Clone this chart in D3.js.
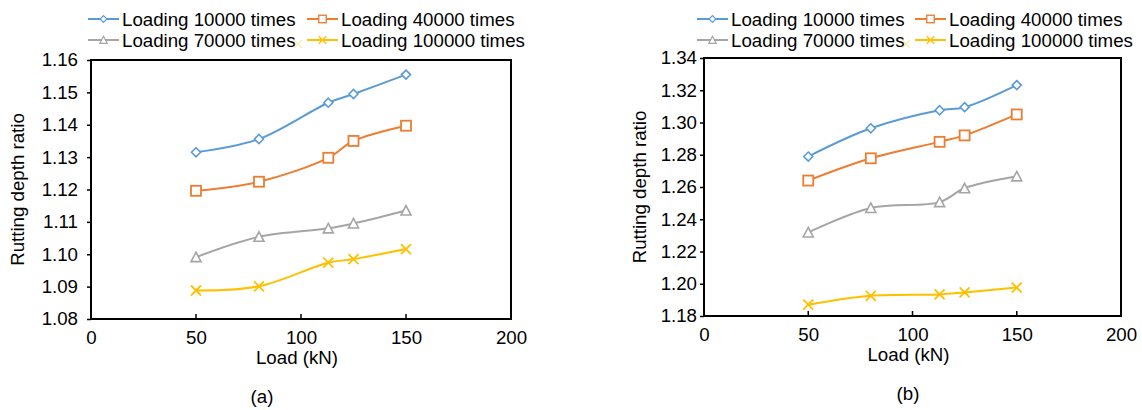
<!DOCTYPE html>
<html>
<head>
<meta charset="utf-8">
<script src="https://cdn.jsdelivr.net/npm/d3@7"></script>
<style>
  body { margin: 0; background: #fff; }
  svg { display: block; font-family: "Liberation Sans", Arial, sans-serif; }
</style>
</head>
<body>
<svg id="chart" width="1142" height="410"></svg>
<script>
// values
var loads = [50, 80, 113, 125, 150];
var seriesNames = ['Loading 10000 times', 'Loading 40000 times', 'Loading 70000 times', 'Loading 100000 times'];
var colors = ['#5B9BD5', '#ED7D31', '#A5A5A5', '#FFC000'];
var markers = ['diamond', 'square', 'triangle', 'cross'];

var ratioA10k = [1.1315, 1.1356, 1.1468, 1.1495, 1.1555];
var ratioA40k = [1.1196, 1.1224, 1.1298, 1.1350, 1.1397];
var ratioA70k = [1.0991, 1.1054, 1.1080, 1.1095, 1.1135];
var ratioA100k = [1.0888, 1.0901, 1.0974, 1.0985, 1.1016];

var ratioB10k = [1.2789, 1.2964, 1.3076, 1.3095, 1.3232];
var ratioB40k = [1.2640, 1.2778, 1.2880, 1.2920, 1.3050];
var ratioB70k = [1.2318, 1.2470, 1.2506, 1.2592, 1.2666];
var ratioB100k = [1.1870, 1.1925, 1.1934, 1.1946, 1.1976];

var xTicks = [0, 50, 100, 150, 200];
var yTicksA = [1.08, 1.09, 1.10, 1.11, 1.12, 1.13, 1.14, 1.15, 1.16];
var yTicksB = [1.18, 1.20, 1.22, 1.24, 1.26, 1.28, 1.30, 1.32, 1.34];

var panels = [
    {
        label: '(a)', series: [ratioA10k, ratioA40k, ratioA70k, ratioA100k], yTicks: yTicksA,
        box: {left: 91, right: 511, top: 60, bottom: 319}, yLabelGap: 9, yTitleX: 24,
        legendX: [88, 307], labelX: 262
    },
    {
        label: '(b)', series: [ratioB10k, ratioB40k, ratioB70k, ratioB100k], yTicks: yTicksB,
        box: {left: 704, right: 1121, top: 58, bottom: 316}, yLabelGap: 3, yTitleX: 646,
        legendX: [697, 915], labelX: 908
    }
];

var svg = d3.select('#chart');
var fontSize = 18.7;

function drawMarker(g, type, color) {
    var s = 4.5;
    if(type === 'diamond') {
        g.append('path').attr('d', 'M0,' + (-s) + 'L' + s + ',0L0,' + s + 'L' + (-s) + ',0Z')
            .attr('fill', '#fff').attr('stroke', color).attr('stroke-width', 1.6);
    } else if(type === 'square') {
        g.append('rect').attr('x', -5).attr('y', -5).attr('width', 10).attr('height', 10)
            .attr('fill', '#fff').attr('stroke', color).attr('stroke-width', 1.8);
    } else if(type === 'triangle') {
        g.append('path').attr('d', 'M0,-5L5,4.5L-5,4.5Z')
            .attr('fill', '#fff').attr('stroke', color).attr('stroke-width', 1.6);
    } else {
        g.append('path').attr('d', 'M-5,-5L5,5M-5,5L5,-5')
            .attr('fill', 'none').attr('stroke', color).attr('stroke-width', 1.8);
    }
}

function drawPanel(p) {
    var b = p.box;
    var x = d3.scaleLinear().domain([0, 200]).range([b.left, b.right]);
    var y = d3.scaleLinear().domain([p.yTicks[0], p.yTicks[p.yTicks.length - 1]]).range([b.bottom, b.top]);
    var g = svg.append('g');

    // plot frame
    g.append('rect')
        .attr('x', b.left).attr('y', b.top)
        .attr('width', b.right - b.left).attr('height', b.bottom - b.top)
        .attr('fill', 'none').attr('stroke', '#000').attr('stroke-width', 2);

    // x axis: ticks point inward
    var xAxis = g.append('g').attr('transform', 'translate(0,' + b.bottom + ')')
        .call(d3.axisBottom(x).tickValues(xTicks).tickSize(0).tickPadding(12));
    xAxis.select('.domain').remove();
    xAxis.selectAll('text').attr('font-size', fontSize).attr('fill', '#000').attr('font-family', null);
    g.selectAll('line.xt')
        .data(xTicks.slice(1, -1))
      .enter().append('line')
        .classed('xt', true)
        .attr('x1', x).attr('x2', x)
        .attr('y1', b.bottom).attr('y2', b.bottom - 5)
        .attr('stroke', '#000').attr('stroke-width', 1.5);

    // y axis: ticks point outward
    var yAxis = g.append('g').attr('transform', 'translate(' + b.left + ',0)')
        .call(d3.axisLeft(y).tickValues(p.yTicks).tickFormat(d3.format('.2f')).tickSize(4).tickPadding(p.yLabelGap));
    yAxis.select('.domain').remove();
    yAxis.selectAll('line').attr('stroke', '#000').attr('stroke-width', 1.5);
    yAxis.selectAll('text').attr('font-size', fontSize).attr('fill', '#000').attr('font-family', null);

    // axis titles
    g.append('text')
        .attr('x', (b.left + b.right) / 2 - 4).attr('y', b.bottom + 45)
        .attr('text-anchor', 'middle').attr('font-size', fontSize)
        .text('Load (kN)');
    g.append('text')
        .attr('transform', 'translate(' + p.yTitleX + ',' + ((b.top + b.bottom) / 2) + ') rotate(-90)')
        .attr('text-anchor', 'middle').attr('font-size', fontSize)
        .text('Rutting depth ratio');
    g.append('text')
        .attr('x', p.labelX).attr('y', b.bottom + 84)
        .attr('text-anchor', 'middle').attr('font-size', fontSize)
        .text(p.label);

    // series
    var line = d3.line()
        .x(function(d) { return x(d[0]); })
        .y(function(d) { return y(d[1]); })
        .curve(d3.curveCatmullRom.alpha(0.5));

    p.series.forEach(function(vals, i) {
        var pts = loads.map(function(l, j) { return [l, vals[j]]; });
        g.append('path').datum(pts)
            .attr('d', line)
            .attr('fill', 'none').attr('stroke', colors[i]).attr('stroke-width', 2);
        g.selectAll('g.pt' + i)
            .data(pts)
          .enter().append('g')
            .classed('pt' + i, true)
            .attr('transform', function(d) { return 'translate(' + x(d[0]) + ',' + y(d[1]) + ')'; })
            .each(function() { drawMarker(d3.select(this), markers[i], colors[i]); });
    });

    // legend
    seriesNames.forEach(function(name, i) {
        var lx = p.legendX[i % 2];
        var ly = i < 2 ? 19 : 40;
        var lg = g.append('g');
        lg.append('line')
            .attr('x1', lx).attr('x2', lx + 31).attr('y1', ly).attr('y2', ly)
            .attr('stroke', colors[i]).attr('stroke-width', 2);
        var m = lg.append('g').attr('transform', 'translate(' + (lx + 15.5) + ',' + ly + ') scale(0.75)');
        drawMarker(m, markers[i], colors[i]);
        lg.append('text')
            .attr('x', lx + 34).attr('y', ly).attr('dy', '0.35em')
            .attr('font-size', fontSize)
            .text(name);
    });

    // faint stray marker next to the legend
    var stray = g.append('g').attr('opacity', 0.3)
        .attr('transform', 'translate(' + (p.legendX[1] - 9) + ',44) scale(0.8)');
    drawMarker(stray, 'cross', colors[3]);
}

panels.forEach(drawPanel);
</script>
</body>
</html>
